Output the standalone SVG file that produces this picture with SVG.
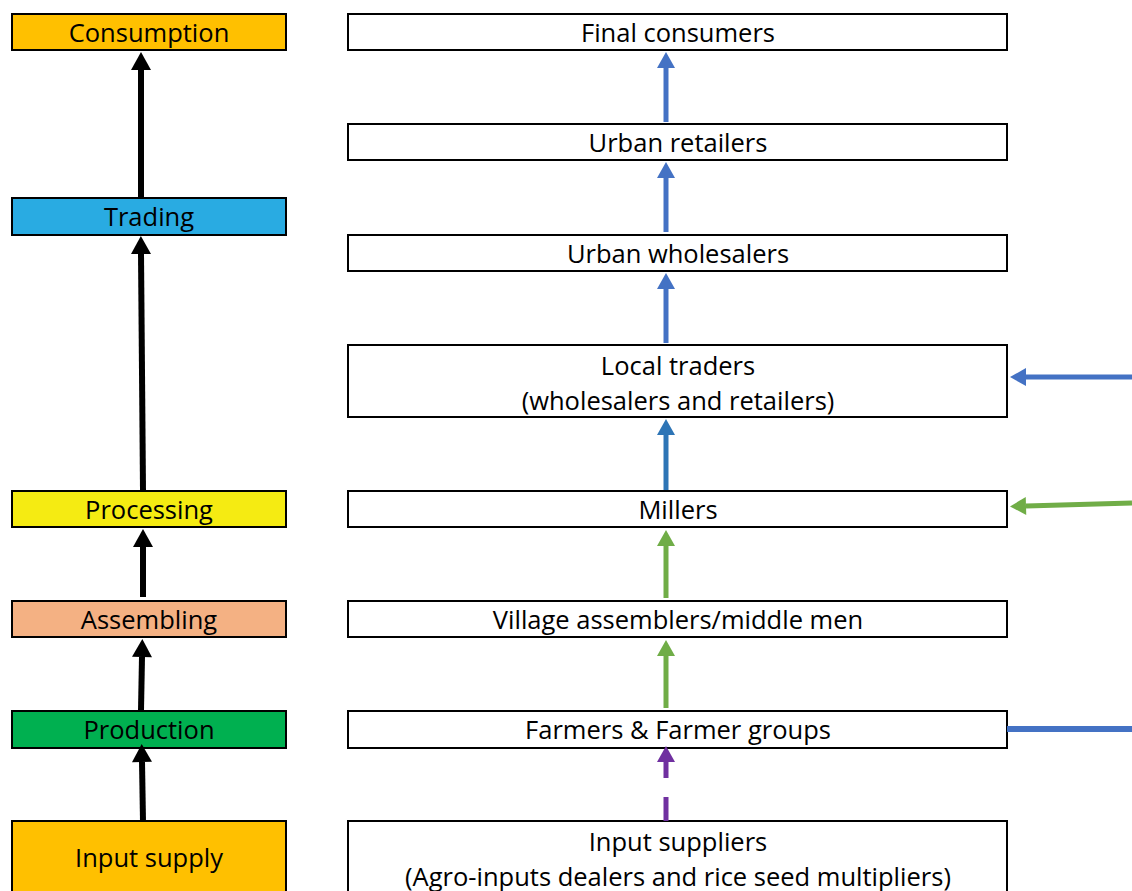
<svg xmlns="http://www.w3.org/2000/svg" width="1132" height="891" viewBox="0 0 1132 891">
<style>
.box{stroke:#000;stroke-width:2}
.t{font-family:"Open Sans","Noto Sans","Liberation Sans",sans-serif;font-size:25.5px;fill:#000;text-anchor:middle}
.k{stroke:#000;stroke-width:6;fill:none}
.b{stroke:#4472C4;stroke-width:5;fill:none}
.b2{stroke:#2E75B6;stroke-width:5;fill:none}
.g{stroke:#70AD47;stroke-width:5;fill:none}
.p{stroke:#7030A0;stroke-width:5;fill:none}
</style>
<defs>
<marker id="mk" markerUnits="userSpaceOnUse" markerWidth="20" markerHeight="22" refX="0" refY="10" orient="auto" overflow="visible"><path d="M0,0 L18,10 L0,20 z" fill="#000"/></marker>
<marker id="mb" markerUnits="userSpaceOnUse" markerWidth="18" markerHeight="18" refX="0" refY="9" orient="auto" overflow="visible"><path d="M0,0 L16,9 L0,18 z" fill="#4472C4"/></marker>
<marker id="mb2" markerUnits="userSpaceOnUse" markerWidth="18" markerHeight="18" refX="0" refY="9" orient="auto" overflow="visible"><path d="M0,0 L16,9 L0,18 z" fill="#2E75B6"/></marker>
<marker id="mg" markerUnits="userSpaceOnUse" markerWidth="18" markerHeight="18" refX="0" refY="9" orient="auto" overflow="visible"><path d="M0,0 L16,9 L0,18 z" fill="#70AD47"/></marker>
<marker id="mp" markerUnits="userSpaceOnUse" markerWidth="18" markerHeight="18" refX="0" refY="9" orient="auto" overflow="visible"><path d="M0,0 L16,9 L0,18 z" fill="#7030A0"/></marker>
</defs>
<rect width="1132" height="891" fill="#fff"/>

<g id="consumption"><rect class="box" x="12" y="14" width="274" height="36" fill="#FFC000"/><text class="t" x="149" y="42">Consumption</text></g>
<g id="trading"><rect class="box" x="12" y="198" width="274" height="37" fill="#29ABE2"/><text class="t" x="149" y="226">Trading</text></g>
<g id="processing"><rect class="box" x="12" y="491" width="274" height="36" fill="#F5EB12"/><text class="t" x="149" y="519">Processing</text></g>
<g id="assembling"><rect class="box" x="12" y="601" width="274" height="36" fill="#F4B183"/><text class="t" x="149" y="629">Assembling</text></g>
<g id="production"><rect class="box" x="12" y="711" width="274" height="37" fill="#00B050"/><text class="t" x="149" y="739">Production</text></g>
<g id="input-supply"><rect class="box" x="12" y="821" width="274" height="80" fill="#FFC000"/><text class="t" x="149" y="867">Input supply</text></g>

<g id="final-consumers"><rect class="box" x="348" y="14" width="659" height="36" fill="#fff"/><text class="t" x="678" y="42">Final consumers</text></g>
<g id="urban-retailers"><rect class="box" x="348" y="124" width="659" height="36" fill="#fff"/><text class="t" x="678" y="152">Urban retailers</text></g>
<g id="urban-wholesalers"><rect class="box" x="348" y="235" width="659" height="36" fill="#fff"/><text class="t" x="678" y="263">Urban wholesalers</text></g>
<g id="local-traders"><rect class="box" x="348" y="345" width="659" height="72" fill="#fff"/><text class="t" x="678" y="375">Local traders</text><text class="t" x="678" y="410">(wholesalers and retailers)</text></g>
<g id="millers"><rect class="box" x="348" y="491" width="659" height="36" fill="#fff"/><text class="t" x="678" y="519">Millers</text></g>
<g id="village-assemblers"><rect class="box" x="348" y="601" width="659" height="36" fill="#fff"/><text class="t" x="678" y="629">Village assemblers/middle men</text></g>
<g id="farmers"><rect class="box" x="348" y="711" width="659" height="37" fill="#fff"/><text class="t" x="678" y="739">Farmers &amp; Farmer groups</text></g>
<g id="input-suppliers"><rect class="box" x="348" y="821" width="659" height="80" fill="#fff"/><text class="t" x="678" y="851">Input suppliers</text><text class="t" x="678" y="886">(Agro-inputs dealers and rice seed multipliers)</text></g>

<g id="connectors">
<line class="k" x1="141" y1="197" x2="141" y2="70" marker-end="url(#mk)"/>
<line class="k" x1="143" y1="490" x2="141" y2="254" marker-end="url(#mk)"/>
<line class="k" x1="143" y1="597" x2="143" y2="547" marker-end="url(#mk)"/>
<line class="k" x1="141" y1="710" x2="142" y2="657" marker-end="url(#mk)"/>
<line class="k" x1="143" y1="821" x2="142" y2="762" marker-end="url(#mk)"/>

<line class="b" x1="666" y1="122" x2="666" y2="68" marker-end="url(#mb)"/>
<line class="b" x1="666" y1="232" x2="666" y2="178" marker-end="url(#mb)"/>
<line class="b" x1="666" y1="343" x2="666" y2="289" marker-end="url(#mb)"/>
<line class="b2" x1="666" y1="490" x2="666" y2="435" marker-end="url(#mb2)"/>
<line class="g" x1="666" y1="598" x2="666" y2="546" marker-end="url(#mg)"/>
<line class="g" x1="666" y1="708" x2="666" y2="656" marker-end="url(#mg)"/>
<path class="p" d="M666,821 L666,762" stroke-dasharray="24 19 40" marker-end="url(#mp)"/>

<line class="b" x1="1132" y1="377" x2="1026" y2="377" marker-end="url(#mb)"/>
<line class="g" x1="1132" y1="503" x2="1026" y2="506" marker-end="url(#mg)"/>
<line x1="1007" y1="729" x2="1132" y2="729" stroke="#4472C4" stroke-width="6"/>
</g>
</svg>
